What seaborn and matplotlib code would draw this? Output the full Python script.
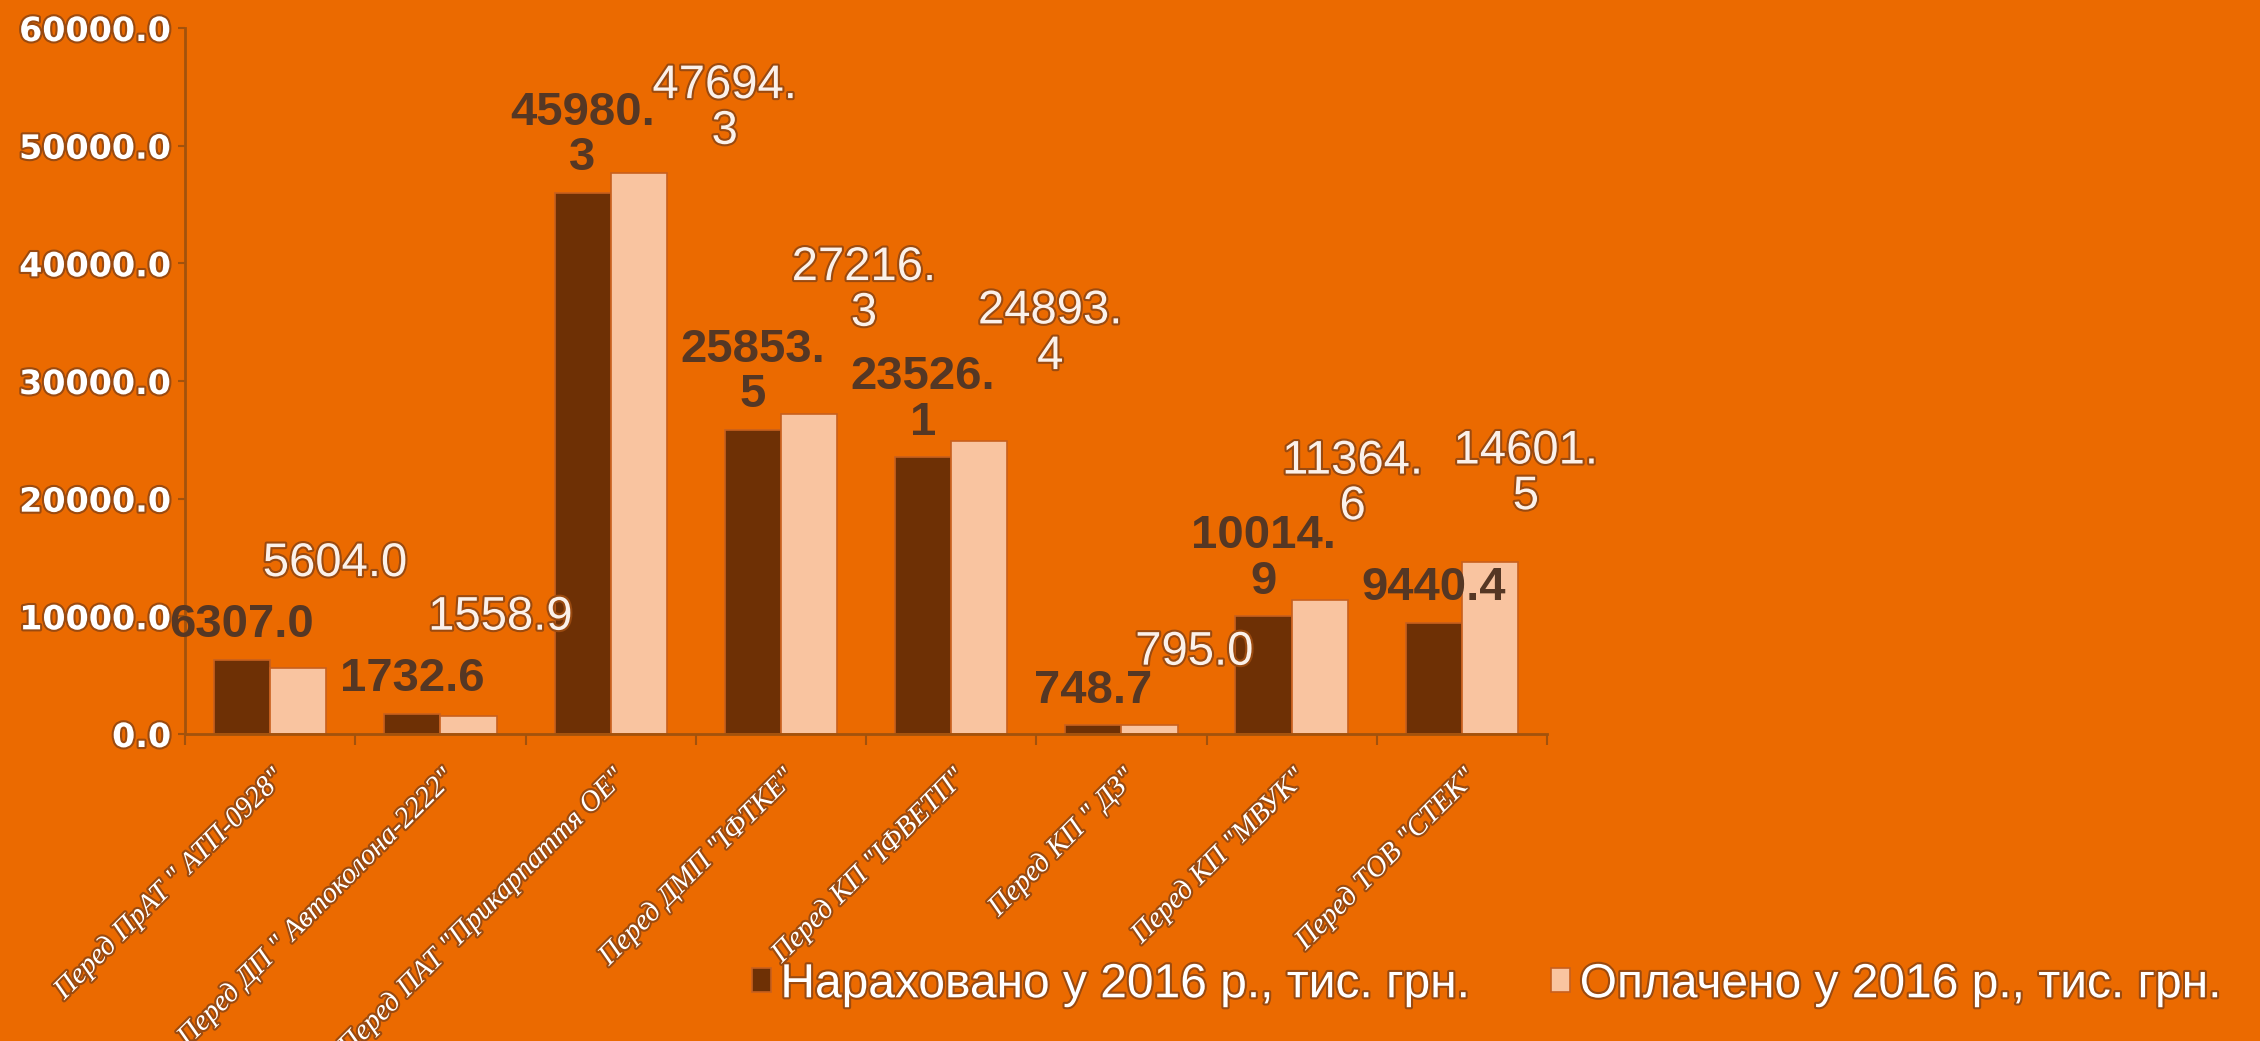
import numpy as np
import pandas as pd
import seaborn as sns
import matplotlib.pyplot as plt
import matplotlib.patheffects as pe

# data
categories = ['Перед ПрАТ " АТП-0928"', 'Перед ДП " Автоколона-2222"', 'Перед ПАТ "Прикарпаття ОЕ"',
              'Перед ДМП "ІФТКЕ"', 'Перед КП "ІФВЕТП"', 'Перед КП " ДЗ"', 'Перед КП "МВУК"', 'Перед ТОВ "СТЕК"']
accrued = [6307.0, 1732.6, 45980.3, 25853.5, 23526.1, 748.7, 10014.9, 9440.4]
paid = [5604.0, 1558.9, 47694.3, 27216.3, 24893.4, 795.0, 11364.6, 14601.5]
series_names = ['Нараховано у 2016 р., тис. грн.', 'Оплачено у 2016 р., тис. грн.']
yticks = [0, 10000, 20000, 30000, 40000, 50000, 60000]

# where the labels of the paid series sit relative to the bar top (pixels)
paid_offsets = [(37, 82), (32, 76), (86, 19), (55, 78), (71, 62), (45, 50), (33, 71), (36, 43)]

bg = '#EB6A00'
dark = '#6E3005'
light = '#F9C4A0'
dark_txt = '#553724'
axis_col = '#A3520C'
glow = [pe.withStroke(linewidth=3, foreground='#9A4A10')]
narrow = ['Liberation Sans', 'DejaVu Sans']

df = pd.DataFrame({
    'cat': categories * 2,
    'val': accrued + paid,
    'series': [series_names[0]] * len(accrued) + [series_names[1]] * len(paid),
})

sns.set_theme(style='white')
plt.rcParams['font.family'] = ['DejaVu Sans']

fig = plt.figure(figsize=(22.6, 10.41), dpi=100)
fig.patch.set_facecolor(bg)
ax = fig.add_axes([0.0819, 0.2949, 0.6026, 0.6782])
ax.set_facecolor(bg)

sns.barplot(data=df, x='cat', y='val', hue='series', palette=[dark, light], width=0.66,
            edgecolor='#C8601E', linewidth=1.2, saturation=1, ax=ax)

handles, labels = ax.get_legend_handles_labels()
ax.get_legend().remove()

ax.set_xlim(-0.5, len(categories) - 0.5)
ax.set_ylim(0, 60000)
ax.set_xlabel('')
ax.set_ylabel('')

# y axis
ax.set_yticks(yticks)
ax.set_yticklabels([f'{v:.1f}' for v in yticks], fontsize=24, fontweight='bold', color='white')
for t in ax.get_yticklabels():
    t.set_path_effects(glow)
ax.tick_params(axis='y', length=5, width=1.5, color=axis_col, pad=5, left=True)

# x axis: labels at centres, tick marks between groups
ax.set_xticks(range(len(categories)))
ax.set_xticklabels(categories, rotation=45, ha='right', rotation_mode='anchor',
                   fontsize=21, fontstyle='italic', family='Liberation Serif', color='white')
for t in ax.get_xticklabels():
    t.set_path_effects(glow)
ax.tick_params(axis='x', length=0, pad=22)
ax.set_xticks(np.arange(-0.5, len(categories)), minor=True)
ax.tick_params(axis='x', which='minor', length=8, width=1.5, color=axis_col, bottom=True)

for side in ['top', 'right']:
    ax.spines[side].set_visible(False)
for side in ['left', 'bottom']:
    ax.spines[side].set_color(axis_col)
    ax.spines[side].set_linewidth(2)


def fmt(v):
    s = f'{v:.1f}'
    # long numbers wrap after the decimal point like in the source chart
    if len(s) > 6:
        a, b = s.split('.')
        return a + '.\n' + b
    return s


# value labels
for bar, v in zip(ax.containers[0], accrued):
    x = bar.get_x() + bar.get_width() / 2
    ax.annotate(fmt(v), (x, bar.get_height()), xytext=(0, 9), textcoords='offset points',
                ha='center', va='bottom', fontsize=34, fontweight='bold', family=narrow,
                color=dark_txt, linespacing=1.05)

for bar, v, (dx, dy) in zip(ax.containers[1], paid, paid_offsets):
    x = bar.get_x() + bar.get_width() / 2
    t = ax.annotate(fmt(v), (x, bar.get_height()), xytext=(dx * 0.72, dy * 0.72),
                    textcoords='offset points', ha='center', va='bottom', fontsize=34,
                    family=narrow, color='#FBF1EA', linespacing=1.05)
    t.set_path_effects(glow)

leg = fig.legend(handles, labels, ncol=2, frameon=False, loc='center left',
                 bbox_to_anchor=(0.3135, 0.054), handlelength=0.4, handleheight=0.4,
                 handletextpad=0.2, columnspacing=1.7, prop={'family': narrow, 'size': 34.5})
for t in leg.get_texts():
    t.set_color('white')
    t.set_path_effects(glow)

fig.savefig('out.png', dpi=100, facecolor=bg)
